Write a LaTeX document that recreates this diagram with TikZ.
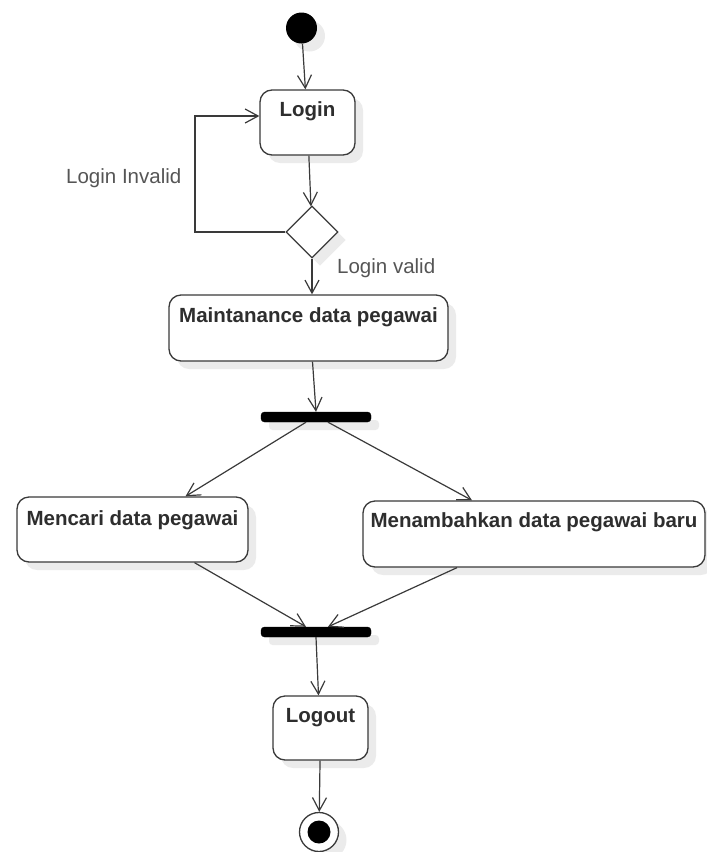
\documentclass[tikz,border=0pt]{standalone}
\usepackage{fontspec}
\setmainfont{Liberation Sans}
\usetikzlibrary{arrows.meta,shapes.geometric,shadows,calc}
\definecolor{lineclr}{HTML}{3A3A3A}
\definecolor{textclr}{HTML}{2E2E2E}
\definecolor{labclr}{HTML}{555555}
\begin{document}
\begin{tikzpicture}[x=1pt,y=-1pt,
  shad/.style={drop shadow={shadow xshift=8pt,shadow yshift=-8pt,fill=black!8,opacity=1}},
  actbox/.style={draw=lineclr,line width=1.3pt,fill=white,rounded corners=12pt,shad,inner sep=0pt},
  acttext/.style={anchor=base,inner sep=0pt,text=textclr,font=\fontsize{20.5pt}{24pt}\selectfont\bfseries},
  lab/.style={anchor=base west,inner sep=0pt,text=labclr,font=\fontsize{20.5pt}{24pt}\selectfont},
  bar/.style={fill=black,draw=black,rounded corners=3.5pt,minimum width=110pt,minimum height=10pt,inner sep=0pt,shad},
  arr/.style={draw=lineclr,line width=1.2pt,-{Straight Barb[length=13pt,width=14pt,line width=1.2pt]}}
]
\useasboundingbox (0,0) rectangle (707,852);

% nodes
\node[circle,fill=black,minimum size=31pt,inner sep=0pt,shad] (start) at (301.5,28) {};
\node[actbox,minimum width=95pt,minimum height=65pt] (login) at (307.5,122.5) {};
\node[acttext] (logint) at ([yshift=-27.5pt]login.north) {Login};
\node[diamond,aspect=1,draw=lineclr,line width=1.3pt,fill=white,minimum width=52pt,minimum height=52pt,inner sep=0pt,shad] (dec) at (312,232) {};
\node[actbox,minimum width=279pt,minimum height=66pt] (maint) at (308.5,328) {};
\node[acttext] (maintt) at ([yshift=-28pt]maint.north) {Maintanance data pegawai};
\node[bar] (bar1) at (316,417) {};
\node[actbox,minimum width=231pt,minimum height=65pt] (mencari) at (132.5,529.5) {};
\node[acttext] (mencarit) at ([yshift=-29pt]mencari.north) {Mencari data pegawai};
\node[actbox,minimum width=342pt,minimum height=66pt] (menamb) at (534,534) {};
\node[acttext] (menambt) at ([yshift=-27pt]menamb.north) {Menambahkan data pegawai baru};
\node[bar] (bar2) at (316,632) {};
\node[actbox,minimum width=95pt,minimum height=64pt] (logout) at (320.5,728) {};
\node[acttext] (logoutt) at ([yshift=-27.5pt]logout.north) {Logout};
\node[circle,draw=lineclr,line width=1.3pt,fill=white,minimum size=39pt,inner sep=0pt,shad] (end) at (319,832) {};
\node[circle,fill=black,minimum size=23pt,inner sep=0pt] (endin) at (end) {};

% labels
\node[lab] (linv) at (66,183) {Login Invalid};
\node[lab] (lval) at (337,273) {Login valid};

% connectors
\coordinate (lc) at (195,116);
\draw[arr] (start) -- (login);
\draw[arr] (login) -- (dec);
\draw[arr] (dec.west) -| (lc) -- (lc -| login.west);
\draw[arr] (dec.south) -- (dec.south |- maint.north);
\draw[arr] ([xshift=4pt]maint.south) -- (bar1.north);
\draw[arr] ([xshift=-10pt]bar1.south) -- ([xshift=53pt]mencari.north);
\draw[arr] ([xshift=12pt]bar1.south) -- ([xshift=-62pt]menamb.north);
\draw[arr] ([xshift=62pt]mencari.south) -- ([xshift=-10pt]bar2.north);
\draw[arr] ([xshift=-77pt]menamb.south) -- ([xshift=12pt]bar2.north);
\draw[arr] (bar2.south) -- ([xshift=-2pt]logout.north);
\draw[arr] (logout) -- (end);
\end{tikzpicture}
\end{document}
